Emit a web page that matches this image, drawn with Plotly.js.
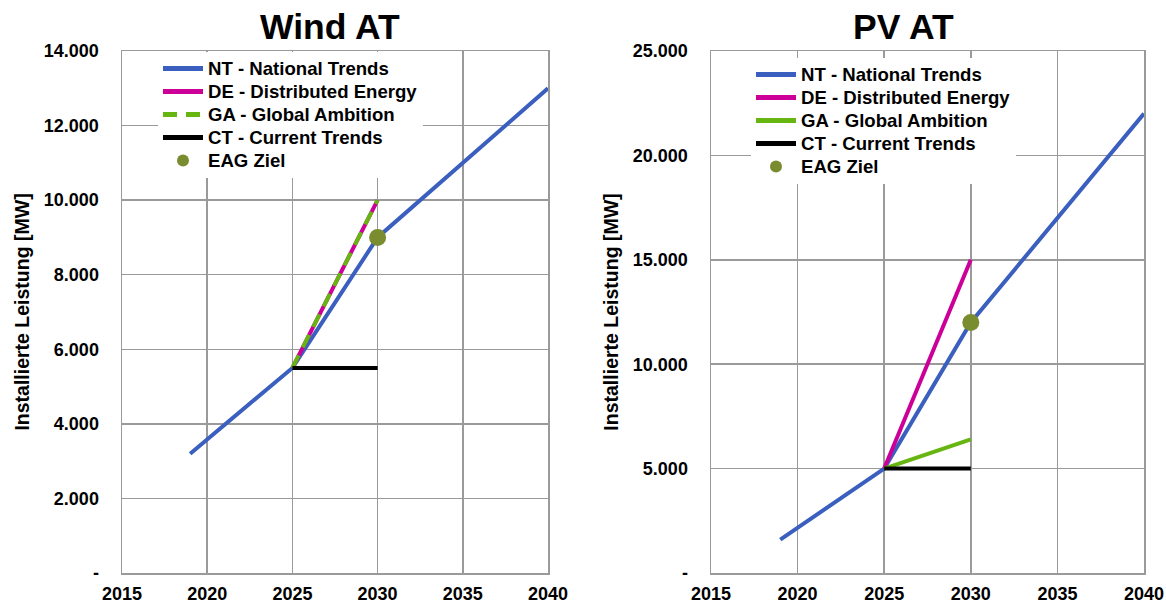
<!DOCTYPE html>
<html>
<head>
<meta charset="utf-8">
<script src="https://cdn.plot.ly/plotly-3.0.1.min.js"></script>
<style>html,body{margin:0;padding:0;background:#fff;}#chart{width:1166px;height:603px;}</style>
</head>
<body>
<div id="chart"></div>
<script>
// ---- Data ----
const windNTYears = [2019, 2025, 2030, 2040];
const windNT = [3200, 5500, 9000, 13000];
const windDEYears = [2025, 2030];
const windDE = [5500, 10000];
const windGAYears = [2025, 2030];
const windGA = [5500, 10000];
const windCTYears = [2025, 2030];
const windCT = [5500, 5500];
const windEAGYears = [2030];
const windEAG = [9000];

const pvNTYears = [2019, 2025, 2030, 2040];
const pvNT = [1600, 5000, 12000, 22000];
const pvDEYears = [2025, 2030];
const pvDE = [5000, 15000];
const pvGAYears = [2025, 2030];
const pvGA = [5000, 6400];
const pvCTYears = [2025, 2030];
const pvCT = [5000, 5000];
const pvEAGYears = [2030];
const pvEAG = [12000];

const seriesNames = ["NT - National Trends", "DE - Distributed Energy", "GA - Global Ambition", "CT - Current Trends", "EAG Ziel"];
const xTickVals = [2015, 2020, 2025, 2030, 2035, 2040];
const xTickText = ["2015", "2020", "2025", "2030", "2035", "2040"];
const windTickVals = [0, 2000, 4000, 6000, 8000, 10000, 12000, 14000];
const windTickText = ["-", "2.000", "4.000", "6.000", "8.000", "10.000", "12.000", "14.000"];
const pvTickVals = [0, 5000, 10000, 15000, 20000, 25000];
const pvTickText = ["-", "5.000", "10.000", "15.000", "20.000", "25.000"];
const titles = ["Wind AT", "PV AT"];
const yTitle = "Installierte Leistung [MW]";

// ---- Styles ----
const C = {NT: "#3A5FBE", DE: "#CC0099", GA: "#66B511", CT: "#000000", EAG: "#7A8C30"};
const LW = 4;
const FONT = "Liberation Sans, Arial, sans-serif";
const legName = (s) => '<span style="font-size:18.6px">' + s + '</span>';

function line(x, y, name, color, xa, ya, leg, dash) {
  return {type: "scatter", mode: "lines", x: x, y: y, name: legName(name), xaxis: xa, yaxis: ya, legend: leg,
    line: {color: color, width: LW, dash: dash || "solid"}, hoverinfo: "x+y"};
}
function dot(x, y, name, xa, ya, leg) {
  return {type: "scatter", mode: "markers", x: x, y: y, name: legName(name), xaxis: xa, yaxis: ya, legend: leg,
    marker: {color: C.EAG, size: 17}, hoverinfo: "x+y"};
}

const traces = [
  line(windNTYears, windNT, seriesNames[0], C.NT, "x", "y", "legend"),
  line(windDEYears, windDE, seriesNames[1], C.DE, "x", "y", "legend"),
  line(windGAYears, windGA, seriesNames[2], C.GA, "x", "y", "legend", "14px,9px"),
  line(windCTYears, windCT, seriesNames[3], C.CT, "x", "y", "legend"),
  dot(windEAGYears, windEAG, seriesNames[4], "x", "y", "legend"),
  line(pvNTYears, pvNT, seriesNames[0], C.NT, "x2", "y2", "legend2"),
  line(pvDEYears, pvDE, seriesNames[1], C.DE, "x2", "y2", "legend2"),
  line(pvGAYears, pvGA, seriesNames[2], C.GA, "x2", "y2", "legend2"),
  line(pvCTYears, pvCT, seriesNames[3], C.CT, "x2", "y2", "legend2"),
  dot(pvEAGYears, pvEAG, seriesNames[4], "x2", "y2", "legend2")
];

const GRID = "#9a9a9a";
const TICKFONT = {family: FONT, size: 18, color: "#000", weight: "bold"};
function xAxis(domain, anchor) {
  return {domain: domain, anchor: anchor, range: [2015, 2040], tickvals: xTickVals, ticktext: xTickText,
    showgrid: true, gridcolor: GRID, gridwidth: 1.5, showline: true, linecolor: GRID, linewidth: 1.5, mirror: true,
    ticks: "outside", ticklen: 4, tickcolor: "rgba(0,0,0,0)", zeroline: false, tickfont: TICKFONT};
}
function yAxis(domain, anchor, max, vals, text) {
  return {domain: domain, anchor: anchor, range: [0, max], tickvals: vals, ticktext: text,
    showgrid: true, gridcolor: GRID, gridwidth: 1.5, showline: true, linecolor: GRID, linewidth: 1.5, mirror: true,
    ticks: "outside", ticklen: 18, tickcolor: "rgba(0,0,0,0)", zeroline: false, tickfont: TICKFONT,
    title: {text: yTitle, standoff: 9, font: {family: FONT, size: 19.5, color: "#000", weight: "bold"}}};
}
const yDom = [1 - 573 / 603, 1 - 51 / 603];
function legend(x, topPx) {
  return {x: x, y: 1 - topPx / 603, xanchor: "left", yanchor: "top", bgcolor: "#ffffff", borderwidth: 0,
    font: {family: FONT, size: 15.4, color: "#000", weight: "bold"}, tracegroupgap: 0, itemwidth: 40,
    itemsizing: "constant"};
}

const layout = {
  width: 1166, height: 603, margin: {l: 0, r: 0, t: 0, b: 0},
  paper_bgcolor: "#fff", plot_bgcolor: "#fff", showlegend: true,
  font: {family: FONT, color: "#000"},
  xaxis: xAxis([122 / 1166, 548 / 1166], "y"),
  yaxis: yAxis(yDom, "x", 14000, windTickVals, windTickText),
  xaxis2: xAxis([711 / 1166, 1144 / 1166], "y2"),
  yaxis2: yAxis(yDom, "x2", 25000, pvTickVals, pvTickText),
  legend: legend(158 / 1166, 52),
  legend2: legend(751 / 1166, 58),
  annotations: [
    {text: titles[0], xref: "paper", yref: "paper", x: 330 / 1166, y: 1 - 27 / 603, xanchor: "center", yanchor: "middle",
      showarrow: false, font: {family: FONT, size: 35.5, color: "#000", weight: "bold"}},
    {text: titles[1], xref: "paper", yref: "paper", x: 903 / 1166, y: 1 - 27 / 603, xanchor: "center", yanchor: "middle",
      showarrow: false, font: {family: FONT, size: 35.5, color: "#000", weight: "bold"}}
  ]
};

Plotly.newPlot("chart", traces, layout, {displayModeBar: false, staticPlot: true});
</script>
</body>
</html>
